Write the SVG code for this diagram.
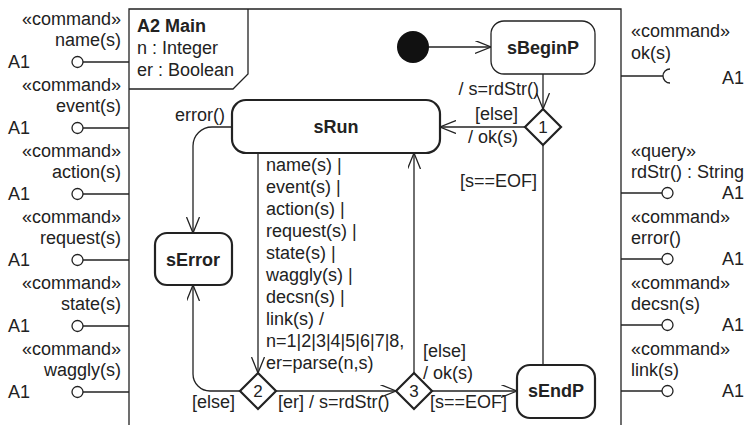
<svg xmlns="http://www.w3.org/2000/svg" width="745" height="425" viewBox="0 0 745 425">
  <style>
    text { font-family: "Liberation Sans", Arial, sans-serif; font-size: 18px; fill: #222; }
    .b { font-weight: bold; }
    .m { text-anchor: middle; }
    .e { text-anchor: end; }
    .n { font-size: 17px; }
    .frame { fill: none; stroke: #222; stroke-width: 1.3; }
    .st { fill: #fff; stroke: #222; stroke-width: 2.2; }
    .st1 { fill: #fff; stroke: #222; stroke-width: 1.3; }
    .ln { fill: none; stroke: #222; stroke-width: 1.3; }
    .arr { fill: none; stroke: #222; stroke-width: 1.3; marker-end: url(#open); }
    .port { fill: #fff; stroke: #222; stroke-width: 1.3; }
  </style>
  <defs>
    <marker id="open" markerUnits="userSpaceOnUse" markerWidth="18" markerHeight="14" refX="16" refY="6.5" orient="auto">
      <path d="M0,0 L16,6.5 L0,13" fill="none" stroke="#222" stroke-width="1.3"/>
    </marker>
  </defs>

  <rect width="745" height="425" fill="#fff"/>

  <!-- frame of the A2 Main state machine -->
  <g id="frame">
    <path class="frame" d="M129,425 V9 H621 V425"/>
    <path class="frame" d="M129,89 H233 L248,74 V9"/>
    <text class="b" x="137" y="32">A2 Main</text>
    <text x="137" y="54">n : Integer</text>
    <text x="137" y="76">er : Boolean</text>
  </g>

  <!-- provided interfaces on the left -->
  <g id="port-name">
    <text class="e" x="121" y="25">«command»</text>
    <text class="e" x="121" y="46">name(s)</text>
    <text x="8" y="68">A1</text>
    <line class="ln" x1="83" y1="62" x2="129" y2="62"/>
    <circle class="port" cx="77.5" cy="62" r="5.5"/>
  </g>
  <g id="port-event">
    <text class="e" x="121" y="91">«command»</text>
    <text class="e" x="121" y="112">event(s)</text>
    <text x="8" y="134">A1</text>
    <line class="ln" x1="83" y1="128" x2="129" y2="128"/>
    <circle class="port" cx="77.5" cy="128" r="5.5"/>
  </g>
  <g id="port-action">
    <text class="e" x="121" y="157">«command»</text>
    <text class="e" x="121" y="178">action(s)</text>
    <text x="8" y="200">A1</text>
    <line class="ln" x1="83" y1="194" x2="129" y2="194"/>
    <circle class="port" cx="77.5" cy="194" r="5.5"/>
  </g>
  <g id="port-request">
    <text class="e" x="121" y="223">«command»</text>
    <text class="e" x="121" y="244">request(s)</text>
    <text x="8" y="266">A1</text>
    <line class="ln" x1="83" y1="260" x2="129" y2="260"/>
    <circle class="port" cx="77.5" cy="260" r="5.5"/>
  </g>
  <g id="port-state">
    <text class="e" x="121" y="289">«command»</text>
    <text class="e" x="121" y="310">state(s)</text>
    <text x="8" y="332">A1</text>
    <line class="ln" x1="83" y1="326" x2="129" y2="326"/>
    <circle class="port" cx="77.5" cy="326" r="5.5"/>
  </g>
  <g id="port-waggly">
    <text class="e" x="121" y="355">«command»</text>
    <text class="e" x="121" y="376">waggly(s)</text>
    <text x="8" y="398">A1</text>
    <line class="ln" x1="83" y1="392" x2="129" y2="392"/>
    <circle class="port" cx="77.5" cy="392" r="5.5"/>
  </g>

  <!-- interfaces on the right -->
  <g id="port-ok">
    <text x="631" y="37">«command»</text>
    <text x="631" y="59">ok(s)</text>
    <line class="ln" x1="621" y1="76" x2="663" y2="76"/>
    <path class="ln" d="M670,69 A7,7 0 0 0 670,83"/>
    <text x="722" y="84">A1</text>
  </g>
  <g id="port-rdStr">
    <text x="631" y="157">«query»</text>
    <text x="631" y="178">rdStr() : String</text>
    <line class="ln" x1="621" y1="193" x2="662" y2="193"/>
    <circle class="port" cx="667.5" cy="193" r="5.5"/>
    <text x="722" y="199">A1</text>
  </g>
  <g id="port-error">
    <text x="631" y="223">«command»</text>
    <text x="631" y="244">error()</text>
    <line class="ln" x1="621" y1="259" x2="662" y2="259"/>
    <circle class="port" cx="667.5" cy="259" r="5.5"/>
    <text x="722" y="265">A1</text>
  </g>
  <g id="port-decsn">
    <text x="631" y="289">«command»</text>
    <text x="631" y="310">decsn(s)</text>
    <line class="ln" x1="621" y1="325" x2="662" y2="325"/>
    <circle class="port" cx="667.5" cy="325" r="5.5"/>
    <text x="722" y="331">A1</text>
  </g>
  <g id="port-link">
    <text x="631" y="355">«command»</text>
    <text x="631" y="376">link(s)</text>
    <line class="ln" x1="621" y1="391" x2="662" y2="391"/>
    <circle class="port" cx="667.5" cy="391" r="5.5"/>
    <text x="722" y="397">A1</text>
  </g>

  <!-- transitions -->
  <g id="connectors">
    <line class="arr" x1="429" y1="47" x2="491" y2="47"/>
    <line class="arr" x1="543" y1="74" x2="543" y2="109"/>
    <line class="arr" x1="525" y1="127" x2="440" y2="127"/>
    <line class="ln" x1="543" y1="145" x2="543" y2="365"/>
    <path class="arr" d="M232,127 H212 A19,19 0 0 0 193,146 V233"/>
    <line class="arr" x1="258" y1="153" x2="258" y2="373"/>
    <path class="arr" d="M240,391 H210 A17,17 0 0 1 193,374 V285"/>
    <line class="arr" x1="276" y1="391" x2="396" y2="391"/>
    <line class="arr" x1="414" y1="373" x2="414" y2="153"/>
    <line class="arr" x1="432" y1="391" x2="517" y2="391"/>

    <text class="e" x="539" y="95">/ s=rdStr()</text>
    <text class="e" x="518" y="120">[else]</text>
    <text class="e" x="518" y="143">/ ok(s)</text>
    <text class="e" x="537" y="187">[s==EOF]</text>
    <text class="e" x="225" y="121">error()</text>
    <text x="266" y="171">name(s) |</text>
    <text x="266" y="193">event(s) |</text>
    <text x="266" y="215">action(s) |</text>
    <text x="266" y="237">request(s) |</text>
    <text x="266" y="259">state(s) |</text>
    <text x="266" y="281">waggly(s) |</text>
    <text x="266" y="303">decsn(s) |</text>
    <text x="266" y="325">link(s) /</text>
    <text x="266" y="347">n=1|2|3|4|5|6|7|8,</text>
    <text x="266" y="369">er=parse(n,s)</text>
    <text class="e" x="235" y="408">[else]</text>
    <text x="278" y="408">[er] / s=rdStr()</text>
    <text x="423" y="357">[else]</text>
    <text x="423" y="379">/ ok(s)</text>
    <text x="430" y="408">[s==EOF]</text>
  </g>

  <!-- states and pseudostates -->
  <g id="initial">
    <circle cx="413" cy="47" r="16" fill="#111"/>
  </g>
  <g id="sBeginP">
    <rect class="st1" x="491" y="21" width="104" height="53" rx="13"/>
    <text class="b m" x="543" y="54">sBeginP</text>
  </g>
  <g id="choice1">
    <path class="st" d="M543,109 L561,127 L543,145 L525,127 Z"/>
    <text class="m n" x="543" y="133">1</text>
  </g>
  <g id="sRun">
    <rect class="st" x="232" y="100" width="208" height="53" rx="14"/>
    <text class="b m" x="336" y="133">sRun</text>
  </g>
  <g id="sError">
    <rect class="st" x="155" y="233" width="77" height="52" rx="12"/>
    <text class="b m" x="193" y="266">sError</text>
  </g>
  <g id="choice2">
    <path class="st" d="M258,373 L276,391 L258,409 L240,391 Z"/>
    <text class="m n" x="258" y="397">2</text>
  </g>
  <g id="choice3">
    <path class="st" d="M414,373 L432,391 L414,409 L396,391 Z"/>
    <text class="m n" x="414" y="397">3</text>
  </g>
  <g id="sEndP">
    <rect class="st" x="517" y="365" width="78" height="53" rx="13"/>
    <text class="b m" x="556" y="397">sEndP</text>
  </g>
</svg>
